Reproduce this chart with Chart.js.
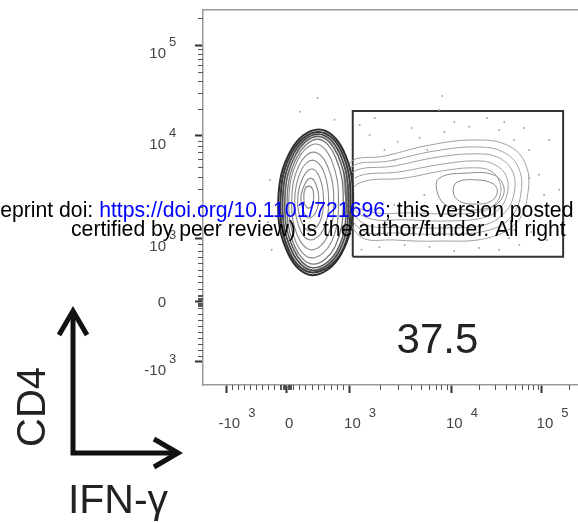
<!DOCTYPE html>
<html>
<head>
<meta charset="utf-8">
<script src="https://cdn.jsdelivr.net/npm/chart.js@4.4.1/dist/chart.umd.min.js"></script>
<style>
  html, body { margin: 0; padding: 0; background: #fff; overflow: hidden; }
  #plot { display: block; }
</style>
</head>
<body>
<canvas id="plot" width="581" height="523"></canvas>
<script>
// Biexponential display: decade values and the display channel (0..1024) they sit on
const decadeValues = [-1000, 0, 1000, 10000, 100000];
const decadeChannels = [64, 228, 401, 680, 928];
const decadeBase = ['-10', '0', '10', '10', '10'];
const decadeExp = ['3', '', '3', '4', '5'];
const minorTickValues = [-900, -800, -700, -600, -500, -400, -300, -200, -100,
  -80, -60, -40, -20, 20, 40, 60, 80,
  100, 200, 300, 400, 500, 600, 700, 800, 900,
  2000, 3000, 4000, 5000, 6000, 7000, 8000, 9000,
  20000, 30000, 40000, 50000, 60000, 70000, 80000, 90000, 200000];

// Contour rings in display channels [IFN-g, CD4], outermost first
// CD4+ IFN-g- population (left)
const negPopRings = [
  [[317,698],[383,643],[411,500],[378,357],[300,300],[234,357],[206,500],[242,643]],
  [[317,691],[379,638],[404,500],[378,361],[300,307],[238,361],[212,500],[245,638]],
  [[316,685],[374,633],[398,500],[373,366],[302,313],[243,366],[218,500],[249,633]],
  [[315,679],[369,628],[392,500],[369,371],[303,320],[248,371],[224,500],[253,628]],
  [[314,671],[363,622],[384,501],[362,379],[302,330],[251,379],[230,501],[257,622]],
  [[309,658],[352,614],[371,502],[352,391],[298,347],[254,391],[235,502],[259,614]],
  [[303,636],[341,598],[358,502],[341,407],[298,369],[259,407],[243,502],[262,598]],
  [[300,614],[330,584],[344,505],[330,426],[295,396],[265,426],[251,505],[268,584]],
  [[298,590],[320,565],[330,505],[320,445],[292,421],[270,445],[259,505],[273,565]],
  [[295,565],[309,549],[317,511],[309,472],[289,456],[276,472],[268,511],[279,549]],
  [[289,543],[300,535],[303,513],[300,492],[289,483],[279,492],[276,513],[279,535]]
];
// CD4+ IFN-g+ population (inside the gate)
const posPopRings = [
  [[401,606],[497,625],[620,655],[743,669],[833,655],[882,606],[890,527],[860,445],[778,401],[647,393],[524,396],[429,407],[391,505]],
  [[404,593],[511,612],[634,639],[751,650],[822,636],[863,595],[871,527],[844,459],[776,421],[653,412],[533,415],[434,423],[393,505]],
  [[407,579],[524,598],[647,623],[756,631],[811,620],[847,584],[852,524],[827,472],[770,437],[661,429],[543,431],[442,440],[396,505]],
  [[415,565],[538,582],[661,604],[756,612],[800,601],[830,571],[833,522],[811,481],[765,456],[669,448],[557,451],[451,456],[399,505]],
  [[429,552],[552,565],[669,587],[751,593],[789,584],[811,557],[814,519],[795,489],[756,472],[675,467],[571,470],[462,472],[401,505]],
  [[647,565],[729,579],[795,574],[822,546],[819,511],[789,486],[724,478],[669,489],[642,524]],
  [[696,554],[751,560],[795,549],[806,527],[789,502],[746,494],[702,502],[685,527]]
];
// sparse outlier events
const eventsX = [456,497,533,571,614,661,688,729,778,811,852,893,920,934,912,899,866,811,756,688,620,552,483,434,524,593,825,879,948,942,838,975,429,470,647,314,655,265,360,183,178,188,606,524,893,852];
const eventsY = [683,642,664,702,642,691,718,705,729,696,669,642,574,519,464,418,382,369,374,366,377,382,377,369,614,675,718,702,669,396,401,533,710,729,751,784,789,746,724,560,445,369,519,492,565,423];

// gate (display channels) and its frequency
const gateX = [410, 986];
const gateY = [350, 748];
const gateFreq = '37.5';

function toChannel(v) {
  if (v <= 0) return decadeChannels[1] + (v / 1000) * (decadeChannels[1] - decadeChannels[0]);
  if (v <= 1000) return decadeChannels[1] + (v / 1000) * (decadeChannels[2] - decadeChannels[1]);
  const lg = Math.log10(v);
  const i = Math.min(Math.floor(lg) - 3, 1);
  const c0 = decadeChannels[2 + i], c1 = decadeChannels[3 + i];
  return c0 + (lg - (3 + i)) * (c1 - c0);
}

const toPts = ring => ring.map(p => ({ x: p[0], y: p[1] }));

const negColors = ['#2e2e2e', '#3a3a3a', '#4a4a4a', '#5e5e5e', '#777'];
const negWidths = [2, 2, 1.8, 1.6, 1.3];

const datasets = [];
negPopRings.forEach((ring, i) => {
  datasets.push({
    data: toPts(ring), ring: true, tension: 0.4, pointRadius: 0,
    borderColor: negColors[i] || '#888', borderWidth: negWidths[i] || 1.1
  });
});
posPopRings.forEach((ring, i) => {
  datasets.push({
    data: toPts(ring), ring: true, tension: 0.4, pointRadius: 0,
    borderColor: i < 5 ? '#a0a0a0' : '#8a8a8a', borderWidth: 1
  });
});
datasets.push({
  data: eventsX.map((x, i) => ({ x: x, y: eventsY[i] })),
  showLine: false, pointRadius: 1, pointBorderWidth: 0, pointBackgroundColor: '#a8a8a8'
});
datasets.push({
  data: [{x: gateX[0], y: gateY[0]}, {x: gateX[1], y: gateY[0]}, {x: gateX[1], y: gateY[1]},
         {x: gateX[0], y: gateY[1]}, {x: gateX[0], y: gateY[0]}],
  tension: 0, pointRadius: 0, borderColor: '#333', borderWidth: 2
});

// make contour rings closed smooth loops
const closeRings = {
  id: 'closeRings',
  beforeDatasetsDraw(chart) {
    chart.data.datasets.forEach((ds, i) => {
      if (!ds.ring) return;
      const line = chart.getDatasetMeta(i).dataset;
      if (!line) return;
      line._loop = true;
      line._fullLoop = true;
      line._pointsUpdated = false;
      line._segments = undefined;
      line._path = undefined;
    });
  }
};

const FONT = '"Liberation Sans", Arial, Helvetica, sans-serif';

const decorations = {
  id: 'decorations',
  afterDraw(chart) {
    const ctx = chart.ctx;
    const xs = chart.scales.x, ys = chart.scales.y;
    ctx.save();

    // minor ticks
    ctx.strokeStyle = '#555';
    ctx.lineWidth = 1;
    minorTickValues.forEach(v => {
      const c = toChannel(v);
      if (c < 0 || c > 1024) return;
      const px = Math.round(xs.getPixelForValue(c)) + 0.5;
      ctx.beginPath(); ctx.moveTo(px, xs.top); ctx.lineTo(px, xs.top + 5); ctx.stroke();
      const py = Math.round(ys.getPixelForValue(c)) + 0.5;
      ctx.beginPath(); ctx.moveTo(ys.right, py); ctx.lineTo(ys.right - 5, py); ctx.stroke();
    });

    // decade labels with superscript exponent
    ctx.fillStyle = '#444';
    decadeValues.forEach((v, i) => {
      const c = toChannel(v);
      const base = decadeBase[i], exp = decadeExp[i];
      // x axis
      const px = xs.getPixelForValue(c) + 3;
      ctx.font = '15px ' + FONT;
      ctx.textAlign = 'center';
      ctx.fillText(base, px, xs.top + 43);
      const bw = ctx.measureText(base).width;
      if (exp) {
        ctx.font = '13px ' + FONT;
        ctx.textAlign = 'left';
        ctx.fillText(exp, px + bw / 2 + 8, xs.top + 32);
      }
      // y axis
      const py = ys.getPixelForValue(c);
      ctx.font = '15px ' + FONT;
      ctx.textAlign = 'right';
      ctx.fillText(base, ys.right - 37, exp ? py + 13 : py + 5.5);
      if (exp) {
        ctx.font = '13px ' + FONT;
        ctx.textAlign = 'left';
        ctx.fillText(exp, ys.right - 34, py + 1);
      }
    });

    // gate frequency
    ctx.fillStyle = '#222';
    ctx.font = '42px ' + FONT;
    ctx.textAlign = 'center';
    ctx.fillText(gateFreq, xs.getPixelForValue(642), ys.getPixelForValue(87));

    // axis key arrows
    ctx.strokeStyle = '#111';
    ctx.lineWidth = 5;
    ctx.lineJoin = 'miter';
    ctx.lineCap = 'butt';
    ctx.beginPath(); ctx.moveTo(73, 312); ctx.lineTo(73, 453); ctx.lineTo(177, 453); ctx.stroke();
    ctx.beginPath(); ctx.moveTo(59, 335); ctx.lineTo(73, 311); ctx.lineTo(87, 335); ctx.stroke();
    ctx.beginPath(); ctx.moveTo(154, 439); ctx.lineTo(178, 453); ctx.lineTo(154, 467); ctx.stroke();

    ctx.fillStyle = '#222';
    ctx.font = '40px ' + FONT;
    ctx.textAlign = 'center';
    ctx.save();
    ctx.translate(45, 407);
    ctx.rotate(-Math.PI / 2);
    ctx.fillText('CD4', 0, 0);
    ctx.restore();
    ctx.font = '41px ' + FONT;
    ctx.fillText('IFN-\u03b3', 118, 513);

    // preprint watermark
    ctx.font = '21.2px ' + FONT;
    ctx.textAlign = 'left';
    const pre = 'eprint doi: ', link = 'https://doi.org/10.1101/721696', post = '; this version posted';
    let x = 385 - ctx.measureText(pre + link).width;
    ctx.fillStyle = '#000';
    ctx.fillText(pre, x, 217);
    x += ctx.measureText(pre).width;
    ctx.fillStyle = '#0000ff';
    ctx.fillText(link, x, 217);
    x += ctx.measureText(link).width;
    ctx.fillStyle = '#000';
    ctx.fillText(post, x, 217);
    ctx.fillText('certified by peer review) is the author/funder. All right', 71, 236);

    ctx.restore();
  }
};

const axisLine = { display: true, color: '#9a9a9a', width: 1.5 };
const tickGrid = { display: true, drawOnChartArea: false, drawTicks: true, tickLength: 8, tickColor: '#333', tickWidth: 2 };

new Chart(document.getElementById('plot'), {
  type: 'line',
  data: { datasets: datasets },
  options: {
    responsive: false,
    animation: false,
    layout: { padding: { top: 10, left: 0, right: 0, bottom: 0 } },
    plugins: { legend: { display: false }, tooltip: { enabled: false } },
    scales: {
      x: {
        type: 'linear', position: 'bottom', min: 0, max: 1024,
        border: axisLine, grid: tickGrid, ticks: { display: false },
        afterBuildTicks: s => { s.ticks = decadeValues.map(v => ({ value: toChannel(v) })); },
        afterFit: s => { s.height = 138; }
      },
      x2: {
        type: 'linear', position: 'top', min: 0, max: 1024,
        border: axisLine, grid: { display: false }, ticks: { display: false },
        afterFit: s => { s.height = 0; }
      },
      y: {
        type: 'linear', position: 'left', min: 0, max: 1024,
        border: axisLine, grid: tickGrid, ticks: { display: false },
        afterBuildTicks: s => { s.ticks = decadeValues.map(v => ({ value: toChannel(v) })); },
        afterFit: s => { s.width = 203; }
      }
    }
  },
  plugins: [closeRings, decorations]
});
</script>
</body>
</html>
